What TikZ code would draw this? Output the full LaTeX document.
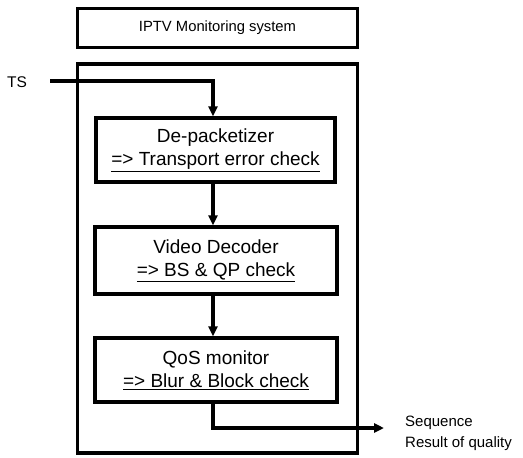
\documentclass[tikz,border=0pt]{standalone}
\usepackage{fontspec}
\setmainfont{Liberation Sans}
\usetikzlibrary{arrows.meta}
\tikzset{
  blk/.style={draw, line width=3.2pt, align=center, inner sep=0pt, font=\fontsize{19}{23}\selectfont},
  frame/.style={draw, line width=3.2pt},
  flow/.style={line width=3.2pt, -{Triangle[width=9pt,length=10pt]}},
  lbl/.style={font=\fontsize{15.5}{18}\selectfont, inner sep=0pt},
}
\begin{document}
\begin{tikzpicture}[x=1pt,y=-1pt]
\useasboundingbox (0,0) rectangle (523,458);
\node[blk, minimum width=280pt, minimum height=39pt, font=\fontsize{14.8}{17}\selectfont] (top) at (217.5,28) {IPTV Monitoring system};
\draw[frame] (77.5,64) rectangle (357.5,453);
\node[blk, minimum width=239pt, minimum height=64pt] (dp) at (215.5,150) {De-packetizer\\\underline{=> Transport error check}};
\node[blk, minimum width=242pt, minimum height=67pt] (vd) at (216,260.5) {Video Decoder\\\underline{=> BS \& QP check}};
\node[blk, minimum width=242pt, minimum height=64pt] (qos) at (216,370) {QoS monitor\\\underline{=> Blur \& Block check}};
\node[lbl, anchor=west] (ts) at (7,82) {TS};
\coordinate (tsstart) at (50,81);
\coordinate (out) at (384,428);
\node[lbl, anchor=west, font=\fontsize{15}{18}\selectfont] (seq) at (405,423) {Sequence};
\node[lbl, anchor=west, font=\fontsize{15}{18}\selectfont] (res) at (405,444) {Result of quality};
\draw[flow] (tsstart) -| (dp.north -| 213,0);
\draw[flow] (dp.south -| 213,0) -- (vd.north -| 213,0);
\draw[flow] (vd.south -| 213,0) -- (qos.north -| 213,0);
\draw[flow] (qos.south -| 213,0) |- (out);
\end{tikzpicture}
\end{document}
